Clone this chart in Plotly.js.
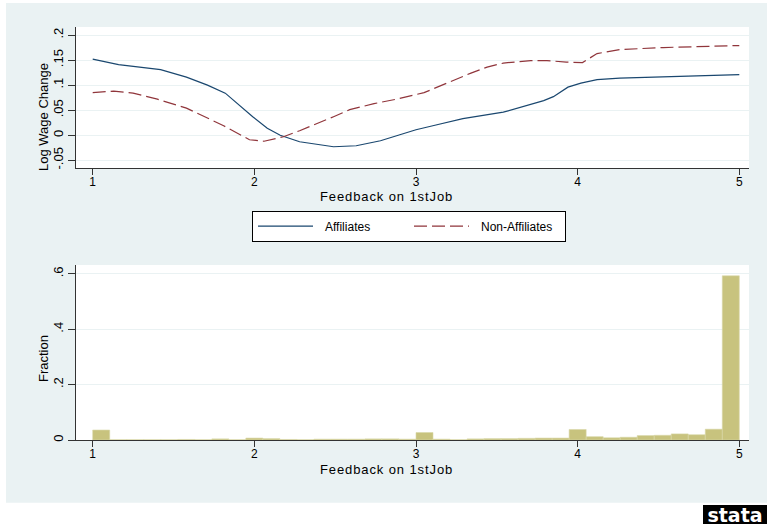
<!DOCTYPE html>
<html><head><meta charset="utf-8">
<script src="https://cdn.plot.ly/plotly-3.0.1.min.js"></script>
<style>
html,body{margin:0;padding:0;background:#fff;}
#chart{width:767px;height:524px;}
g.annotation[data-index="0"] text, g.annotation[data-index="1"] text{letter-spacing:0.9px;}
g.legend text.legendtext{transform:translateX(7px);}
</style></head><body><div id="chart"></div>
<script>
// ---- data ----
const affX = [1.0,1.16,1.42,1.58,1.71,1.82,1.99,2.08,2.16,2.28,2.49,2.63,2.78,2.88,3.0,3.13,3.29,3.54,3.66,3.79,3.85,3.94,4.02,4.12,4.26,4.53,4.74,5.0];
const affY = [0.152,0.141,0.131,0.116,0.100,0.084,0.037,0.014,0.000,-0.013,-0.023,-0.021,-0.011,-0.001,0.011,0.021,0.033,0.046,0.057,0.069,0.077,0.096,0.104,0.111,0.114,0.117,0.119,0.121];
const nonX = [1.0,1.13,1.25,1.40,1.58,1.81,1.97,2.06,2.18,2.28,2.49,2.59,2.74,2.88,3.05,3.19,3.34,3.44,3.54,3.71,3.81,3.93,4.03,4.12,4.26,4.53,4.74,5.0];
const nonY = [0.085,0.088,0.084,0.072,0.054,0.019,-0.009,-0.012,-0.003,0.009,0.037,0.051,0.063,0.072,0.085,0.104,0.124,0.136,0.144,0.149,0.149,0.146,0.145,0.163,0.171,0.175,0.177,0.179];
const histLo = 1, histHi = 5;
const histFrac = [0.036,0.001,0.001,0.001,0.001,0.002,0.001,0.004,0.001,0.007,0.005,0.002,0.001,0.003,0.003,0.003,0.004,0.004,0.003,0.027,0.003,0.001,0.004,0.005,0.005,0.006,0.007,0.007,0.038,0.012,0.008,0.010,0.016,0.017,0.022,0.019,0.039,0.593];
const xTickVals = [1,2,3,4,5];
const yTopVals = [-0.05,0,0.05,0.1,0.15,0.2];
const yTopText = ['-.05','0','.05','.1','.15','.2'];
const yBotVals = [0,0.2,0.4,0.6];
const yBotText = ['0','.2','.4','.6'];
const seriesNames = ['Affiliates','Non-Affiliates'];
const xTitle = 'Feedback on 1stJob';
const yTopTitle = 'Log Wage Change';
const yBotTitle = 'Fraction';

// ---- derived bins ----
const binW = (histHi - histLo) / histFrac.length;
const binCenters = histFrac.map((_, i) => histLo + (i + 0.5) * binW);

const W = 767, H = 524;
const px = v => v / W;
const py = v => 1 - v / H;
const FONT = 'Liberation Sans, Arial, sans-serif';
const BG = '#eaf2f3';
const AX = '#333333';

const traces = [
  {x: affX, y: affY, xaxis: 'x', yaxis: 'y', mode: 'lines', name: seriesNames[0],
   line: {color: '#1a476f', width: 1.2}},
  {x: nonX, y: nonY, xaxis: 'x', yaxis: 'y', mode: 'lines', name: seriesNames[1],
   line: {color: '#90353b', width: 1.2, dash: '13px,5px'}},
  {type: 'bar', x: binCenters, y: histFrac, width: binW, xaxis: 'x2', yaxis: 'y2',
   showlegend: false, marker: {color: '#c8c37e', line: {color: '#d9d6a8', width: 0.6}}}
];

const xCommon = {
  range: [0.8967, 5.060], tickvals: xTickVals, ticks: 'outside', ticklen: 6, tickwidth: 1,
  tickcolor: AX, showline: true, linecolor: AX, linewidth: 1, showgrid: false, zeroline: false,
  ticklabelstandoff: -3,
  tickfont: {family: FONT, size: 12, color: '#000'}, fixedrange: true
};
const yCommon = {
  ticks: 'outside', ticklen: 7, tickwidth: 1, tickcolor: AX, showline: true, linecolor: AX,
  linewidth: 1, showgrid: true, gridcolor: BG, gridwidth: 1, zeroline: false, tickangle: -90,
  tickfont: {family: FONT, size: 13, color: '#000'}, fixedrange: true
};

const layout = {
  width: W, height: H,
  margin: {l: 0, r: 0, t: 0, b: 0},
  paper_bgcolor: BG, plot_bgcolor: '#ffffff',
  font: {family: FONT, size: 12, color: '#000'},
  xaxis: Object.assign({}, xCommon, {domain: [px(76), px(749)], anchor: 'y'}),
  yaxis: Object.assign({}, yCommon, {domain: [py(168), py(27)], anchor: 'x',
    range: [-0.0654, 0.216], tickvals: yTopVals, ticktext: yTopText}),
  xaxis2: Object.assign({}, xCommon, {domain: [px(76), px(749)], anchor: 'y2'}),
  yaxis2: Object.assign({}, yCommon, {domain: [py(440), py(265)], anchor: 'x2',
    range: [0, 0.632], tickvals: yBotVals, ticktext: yBotText}),
  showlegend: true,
  legend: {orientation: 'h', x: px(252), y: py(210.7), xanchor: 'left', yanchor: 'top',
    bgcolor: '#ffffff', bordercolor: '#000000', borderwidth: 1,
    font: {family: FONT, size: 12, color: '#000'}, itemwidth: 55,
    entrywidth: 86, entrywidthmode: 'pixels', itemclick: false, itemdoubleclick: false},
  bargap: 0,
  shapes: [
    {type: 'rect', xref: 'paper', yref: 'paper', x0: 0, x1: 1, y0: 0, y1: py(502.7),
     fillcolor: '#ffffff', line: {width: 0}, layer: 'below'},
    {type: 'rect', xref: 'paper', yref: 'paper', x0: 0, x1: px(6), y0: 0, y1: 1,
     fillcolor: '#ffffff', line: {width: 0}, layer: 'below'},
    {type: 'rect', xref: 'paper', yref: 'paper', x0: 0, x1: 1, y0: py(3), y1: 1,
     fillcolor: '#ffffff', line: {width: 0}, layer: 'below'}
  ],
  annotations: [
    {text: xTitle, xref: 'paper', yref: 'paper', x: px(326), y: py(197), xanchor: 'left',
     yanchor: 'middle', showarrow: false, font: {family: FONT, size: 13, color: '#000'}},
    {text: xTitle, xref: 'paper', yref: 'paper', x: px(326), y: py(469), xanchor: 'left',
     yanchor: 'middle', showarrow: false, font: {family: FONT, size: 13, color: '#000'}},
    {text: yTopTitle, xref: 'paper', yref: 'paper', x: px(43), y: py(173), xanchor: 'center',
     yanchor: 'bottom', textangle: -90, showarrow: false, font: {family: FONT, size: 13, color: '#000'}},
    {text: yBotTitle, xref: 'paper', yref: 'paper', x: px(43), y: py(384.5), xanchor: 'center',
     yanchor: 'bottom', textangle: -90, showarrow: false, font: {family: FONT, size: 13, color: '#000'}},
    {text: '<b>stata</b>', xref: 'paper', yref: 'paper', x: 1, y: 0, xanchor: 'right', yanchor: 'bottom',
     showarrow: false, bgcolor: '#000000', borderpad: 0, borderwidth: 0, width: 64, height: 19,
     font: {family: 'DejaVu Sans, sans-serif', size: 19, color: '#ffffff'}}
  ]
};

Plotly.newPlot('chart', traces, layout, {displayModeBar: false, staticPlot: true});
</script></body></html>
